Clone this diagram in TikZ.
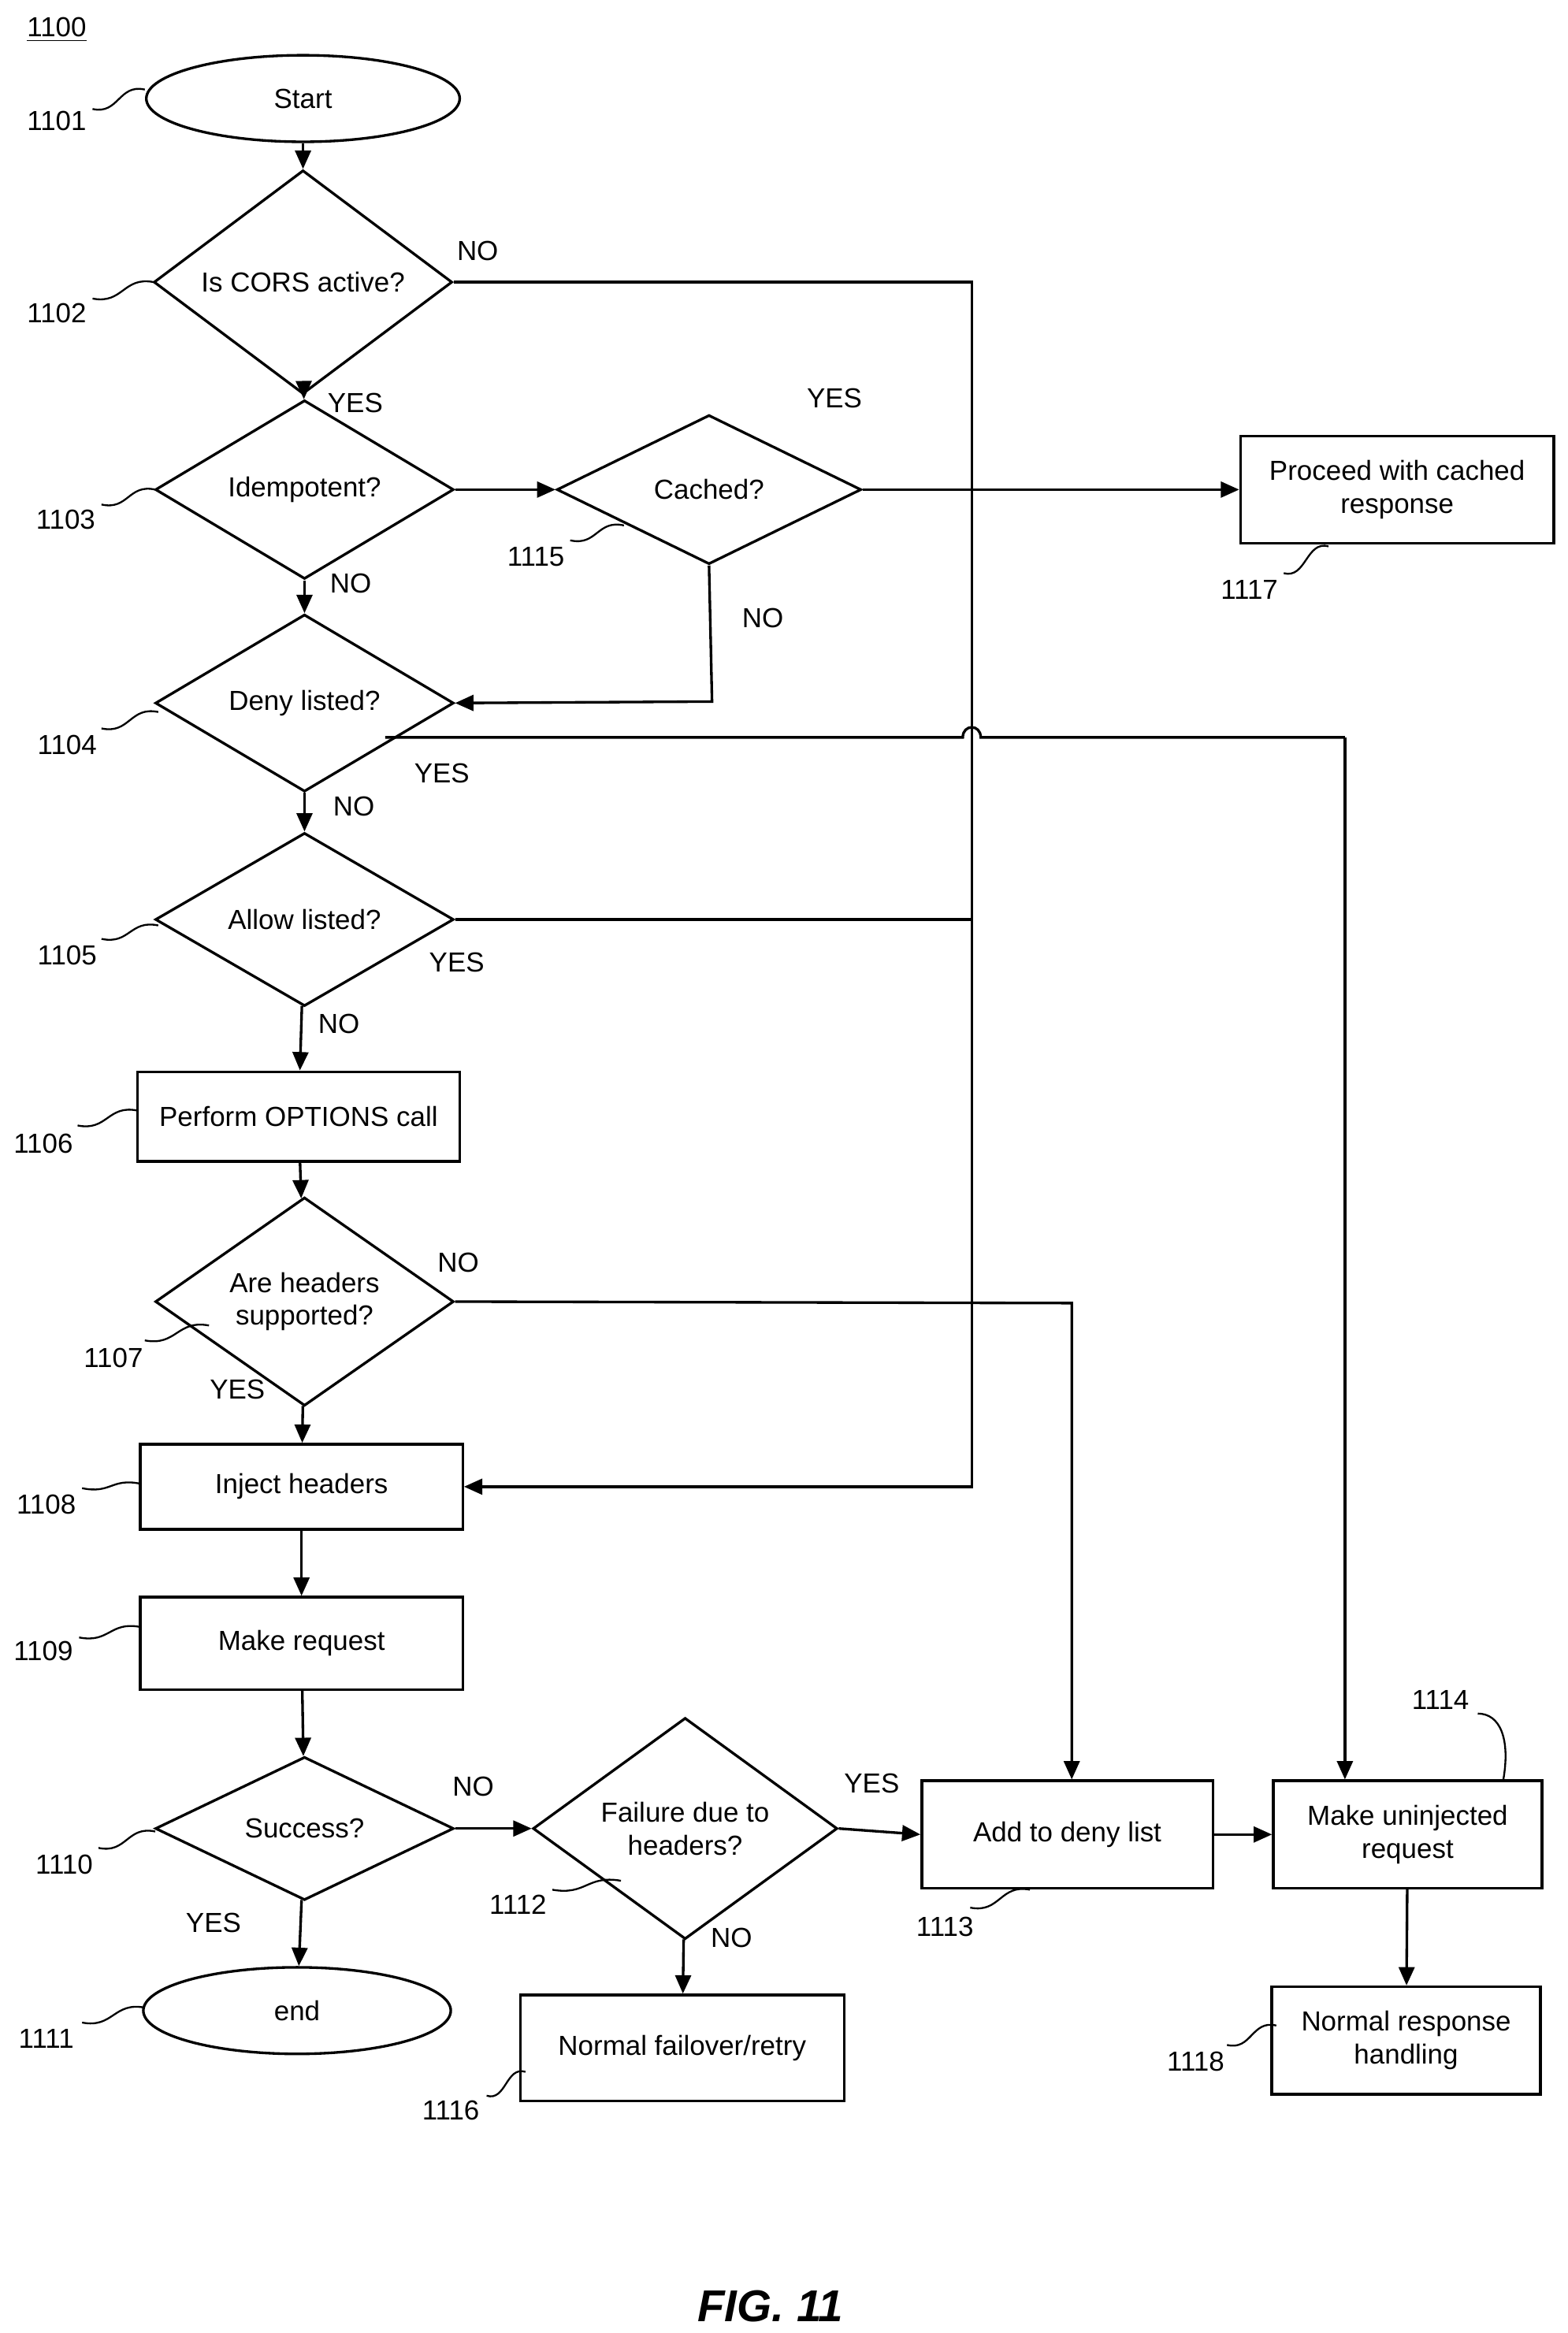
\documentclass[tikz,border=0pt]{standalone}
\usepackage{fontspec}
\setmainfont{Liberation Sans}
\usetikzlibrary{shapes.geometric,arrows.meta}
\begin{document}
\begin{tikzpicture}[x=0.02cm,y=-0.02cm,
  every node/.style={font=\fontsize{10.5}{12.5}\selectfont},
  box/.style={draw,line width=1pt,align=center,inner sep=2pt},
  dia/.style={draw,diamond,line width=1pt,align=center,inner sep=0pt,minimum width=4cm,minimum height=1.92cm},
  oval/.style={draw,ellipse,line width=1pt,minimum width=4.2cm,minimum height=1.16cm},
  arr/.style={line width=1pt,-{Triangle[length=7pt,width=6pt]}},
  ln/.style={line width=1pt},
  lead/.style={line width=0.7pt},
  lab/.style={inner sep=1pt}]
\useasboundingbox (0,0) rectangle (1050,1563);
\node[lab] (t1100) at (38,20) {\underline{1100}};
\node[oval] (n1101) at (203,66) {Start};
\node[dia] (n1102) at (203,189) {Is CORS active?};
\node[dia] (n1103) at (204,328) {Idempotent?};
\node[dia,minimum width=4.08cm,minimum height=2cm] (n1115) at (475,328) {Cached?};
\node[box,minimum width=4.2cm,minimum height=1.44cm] (n1117) at (936,328) {Proceed with cached\\response};
\node[dia] (n1104) at (204,471) {Deny listed?};
\node[dia] (n1105) at (204,616) {Allow listed?};
\node[box,minimum width=4.32cm,minimum height=1.2cm] (n1106) at (200,748) {Perform OPTIONS call};
\node[dia] (n1107) at (204,872) {Are headers\\supported?};
\node[box,minimum width=4.32cm,minimum height=1.14cm] (n1108) at (202,996) {Inject headers};
\node[box,minimum width=4.32cm,minimum height=1.24cm] (n1109) at (202,1101) {Make request};
\node[dia] (n1110) at (204,1225) {Success?};
\node[oval,minimum width=4.12cm] (n1111) at (199,1347) {end};
\node[dia,minimum width=4.08cm,minimum height=2.16cm] (n1112) at (459,1225) {Failure due to\\headers?};
\node[box,minimum width=3.9cm,minimum height=1.44cm] (n1113) at (715,1229) {Add to deny list};
\node[box,minimum width=3.6cm,minimum height=1.44cm] (n1114) at (943,1229) {Make uninjected\\request};
\node[box,minimum width=4.34cm,minimum height=1.42cm] (n1116) at (457,1372) {Normal failover/retry};
\node[box,minimum width=3.6cm,minimum height=1.44cm] (n1118) at (942,1367) {Normal response\\handling};
\node[font=\fontsize{17}{20}\selectfont\bfseries\itshape] (fig) at (516,1545) {FIG. 11};

% connectors
\coordinate (c1) at (651,189);
\coordinate (c2) at (651,996);
\coordinate (c3) at (477,470);
\coordinate (d0) at (258,494);
\coordinate (d1) at (645,494);
\coordinate (d2) at (657,494);
\coordinate (d3) at (901,494);
\coordinate (j1) at (651,616);
\coordinate (h1) at (718,873);
\draw[arr] (n1101) -- (n1102);
\draw[arr] (n1102.east) -- (c1) -- (c2) -- (n1108.east);
\draw[arr] (n1102) -- (n1103);
\draw[arr] (n1103.east) -- (n1115.west);
\draw[arr] (n1115.east) -- (n1117.west);
\draw[arr] (n1115.south) -- (c3) -- (n1104.east);
\draw[arr] (n1103) -- (n1104);
\draw[ln] (d0) -- (d1) .. controls (645,485) and (657,485) .. (d2) -- (d3);
\draw[arr] (d3) -- (n1114.north -| d3);
\draw[arr] (n1104) -- (n1105);
\draw[ln] (n1105.east) -- (j1);
\draw[arr] (n1105) -- (n1106);
\draw[arr] (n1106) -- (n1107);
\draw[arr] (n1107.east) -- (h1) -- (n1113.north -| h1);
\draw[arr] (n1107) -- (n1108);
\draw[arr] (n1108) -- (n1109);
\draw[arr] (n1109) -- (n1110);
\draw[arr] (n1110.east) -- (n1112.west);
\draw[arr] (n1110) -- (n1111);
\draw[arr] (n1112.east) -- (n1113.west);
\draw[arr] (n1112) -- (n1116);
\draw[arr] (n1113) -- (n1114);
\draw[arr] (n1114) -- (n1118);

% branch labels
\node[lab] (y1) at (320,168) {NO};
\node[lab] (y2) at (238,270) {YES};
\node[lab] (y3) at (559,267) {YES};
\node[lab] (y4) at (511,414) {NO};
\node[lab] (y5) at (235,391) {NO};
\node[lab] (y6) at (296,518) {YES};
\node[lab] (y7) at (237,540) {NO};
\node[lab] (y8) at (306,645) {YES};
\node[lab] (y9) at (227,686) {NO};
\node[lab] (y10) at (307,846) {NO};
\node[lab] (y11) at (159,931) {YES};
\node[lab] (y12) at (317,1197) {NO};
\node[lab] (y13) at (143,1288) {YES};
\node[lab] (y14) at (584,1195) {YES};
\node[lab] (y15) at (490,1298) {NO};

% reference numerals with leaders
\foreach \t/\lx/\ly/\ax/\ay/\bx/\by in {
 1101/38/81/62/73/97/60, 1102/38/210/62/200/103/189, 1103/44/348/68/338/104/328,
 1115/359/373/382/362/418/352, 1117/837/395/860/384/890/366,
 1104/45/499/68/488/106/477, 1105/45/640/68/629/106/620,
 1106/29/766/52/754/92/744, 1107/76/910/97/898/140/888,
 1108/31/1008/55/997/94/994, 1109/29/1106/53/1097/94/1090,
 1110/43/1249/66/1238/104/1227, 1111/31/1366/55/1355/97/1345,
 1112/347/1276/370/1266/416/1260, 1113/633/1291/650/1278/690/1266,
 1116/302/1414/326/1404/352/1388, 1118/801/1381/822/1370/855/1357}{
  \node[lab] (r\t) at (\lx,\ly) {\t};
  \draw[lead] (\ax,\ay) .. controls ({(\ax+\bx)/2},\ay+4) and ({(\ax+\bx)/2},\by-4) .. (\bx,\by);
}
\node[lab] (r1114) at (965,1139) {1114};
\draw[lead] (990,1148) .. controls (1005,1148) and (1012,1165) .. (1007,1193);
\end{tikzpicture}
\end{document}
